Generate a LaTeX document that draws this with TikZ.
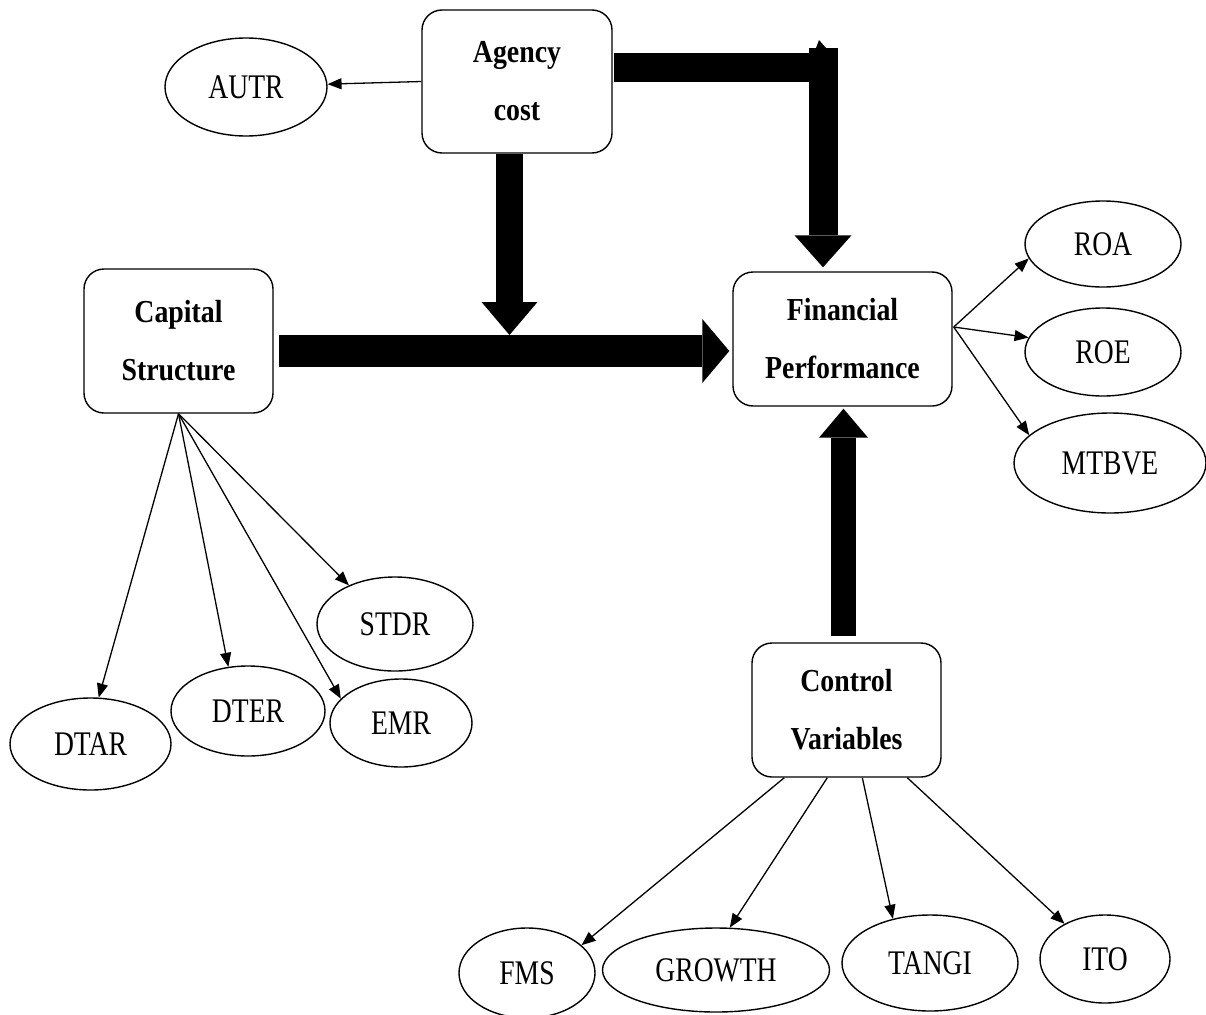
\documentclass[tikz,border=0pt]{standalone}
\usepackage{fontspec}
\newfontfamily\regf[FakeStretch=0.8]{Liberation Serif}
\newfontfamily\bfam[FakeStretch=0.87]{Liberation Serif}
\usetikzlibrary{shapes.geometric,arrows.meta,calc}
\begin{document}
\begin{tikzpicture}[x=1pt,y=-1pt,
  ell/.style={ellipse,draw,line width=1.4pt,inner sep=0pt,font=\regf\fontsize{34.5}{40}\selectfont},
  box/.style={draw,rounded corners=20pt,line width=1.4pt,align=center,inner sep=0pt,font=\bfam\bfseries\fontsize{32}{58}\selectfont},
  thinarrow/.style={line width=1.3pt,-{Triangle[length=14pt,width=11pt]}},
  blockarrow/.style={line join=miter}]
\useasboundingbox (0,0) rectangle (1206,1014);

% boxes
\node[box,minimum width=190pt,minimum height=143pt] (agency) at (517,81.5) {Agency\\cost};
\node[box,minimum width=189pt,minimum height=144pt] (cap) at (178.5,341) {Capital\\Structure};
\node[box,minimum width=219pt,minimum height=134pt] (fin) at (842.5,339) {Financial\\Performance};
\node[box,minimum width=189pt,minimum height=134pt] (ctrl) at (846.5,710) {Control\\Variables};

% ellipses
\node[ell,minimum width=162pt,minimum height=98pt] (autr) at (246,87) {AUTR};
\node[ell,minimum width=156pt,minimum height=86pt] (roa) at (1103,244) {ROA};
\node[ell,minimum width=156pt,minimum height=88pt] (roe) at (1103,352) {ROE};
\node[ell,minimum width=192pt,minimum height=100pt] (mtbve) at (1110,463) {MTBVE};
\node[ell,minimum width=156pt,minimum height=94pt] (stdr) at (395,624) {STDR};
\node[ell,minimum width=154pt,minimum height=90pt] (dter) at (248,711) {DTER};
\node[ell,minimum width=142pt,minimum height=88pt] (emr) at (401,723) {EMR};
\node[ell,minimum width=161pt,minimum height=92pt] (dtar) at (90.5,744) {DTAR};
\node[ell,minimum width=136pt,minimum height=90pt] (fms) at (527,973) {FMS};
\node[ell,minimum width=227pt,minimum height=84pt] (growth) at (716,970) {GROWTH};
\node[ell,minimum width=176pt,minimum height=96pt] (tangi) at (930,963) {TANGI};
\node[ell,minimum width=130pt,minimum height=88pt] (ito) at (1105,959) {ITO};

% block arrows
\coordinate (cj) at (509.5,335);
\draw[blockarrow,line width=27pt,-{Triangle[length=33pt,width=56pt,line width=0pt]}] (agency.south -| cj) -- (cj);
\draw[blockarrow,line width=32pt,-{Triangle[length=27pt,width=64pt,line width=0pt]}] ($(cap.east)+(5,10)$) -- ($(fin.west)+(-3,12)$);
\draw[blockarrow,line width=29pt,-{Triangle[length=32pt,width=57pt,line width=0pt]}] ($(agency.east)+(1,-14)$) -| ($(fin.north)+(-19.5,-4)$);
\fill (808.5,48) rectangle (837.5,60);
\fill (816,48) -- (819,40) -- (826,48) -- cycle;
\draw[blockarrow,line width=25pt,-{Triangle[length=29pt,width=49pt,line width=0pt]}] ($(ctrl.north)+(-3,-6)$) -- ($(fin.south)+(1,2)$);

% thin arrows
\draw[thinarrow] (agency.west) -- (autr.2);
\draw[thinarrow] (cap.south) -- (dtar.80);
\draw[thinarrow] (cap.south) -- (dter.114);
\draw[thinarrow] (cap.south) -- (emr.158);
\draw[thinarrow] (cap.south) -- (stdr.140);
\draw[thinarrow] ($(fin.east)+(1,-12)$) -- (roa.191);
\draw[thinarrow] ($(fin.east)+(1,-12)$) -- (roe.169);
\draw[thinarrow] ($(fin.east)+(1,-12)$) -- (mtbve.161);
\draw[thinarrow] ($(ctrl.south west)+(33,0)$) -- (fms.27);
\draw[thinarrow] ($(ctrl.south west)+(76,0)$) -- (growth.72);
\draw[thinarrow] ($(ctrl.south west)+(111,0)$) -- (tangi.130);
\draw[thinarrow] ($(ctrl.south west)+(156,0)$) -- (ito.139);
\end{tikzpicture}
\end{document}
